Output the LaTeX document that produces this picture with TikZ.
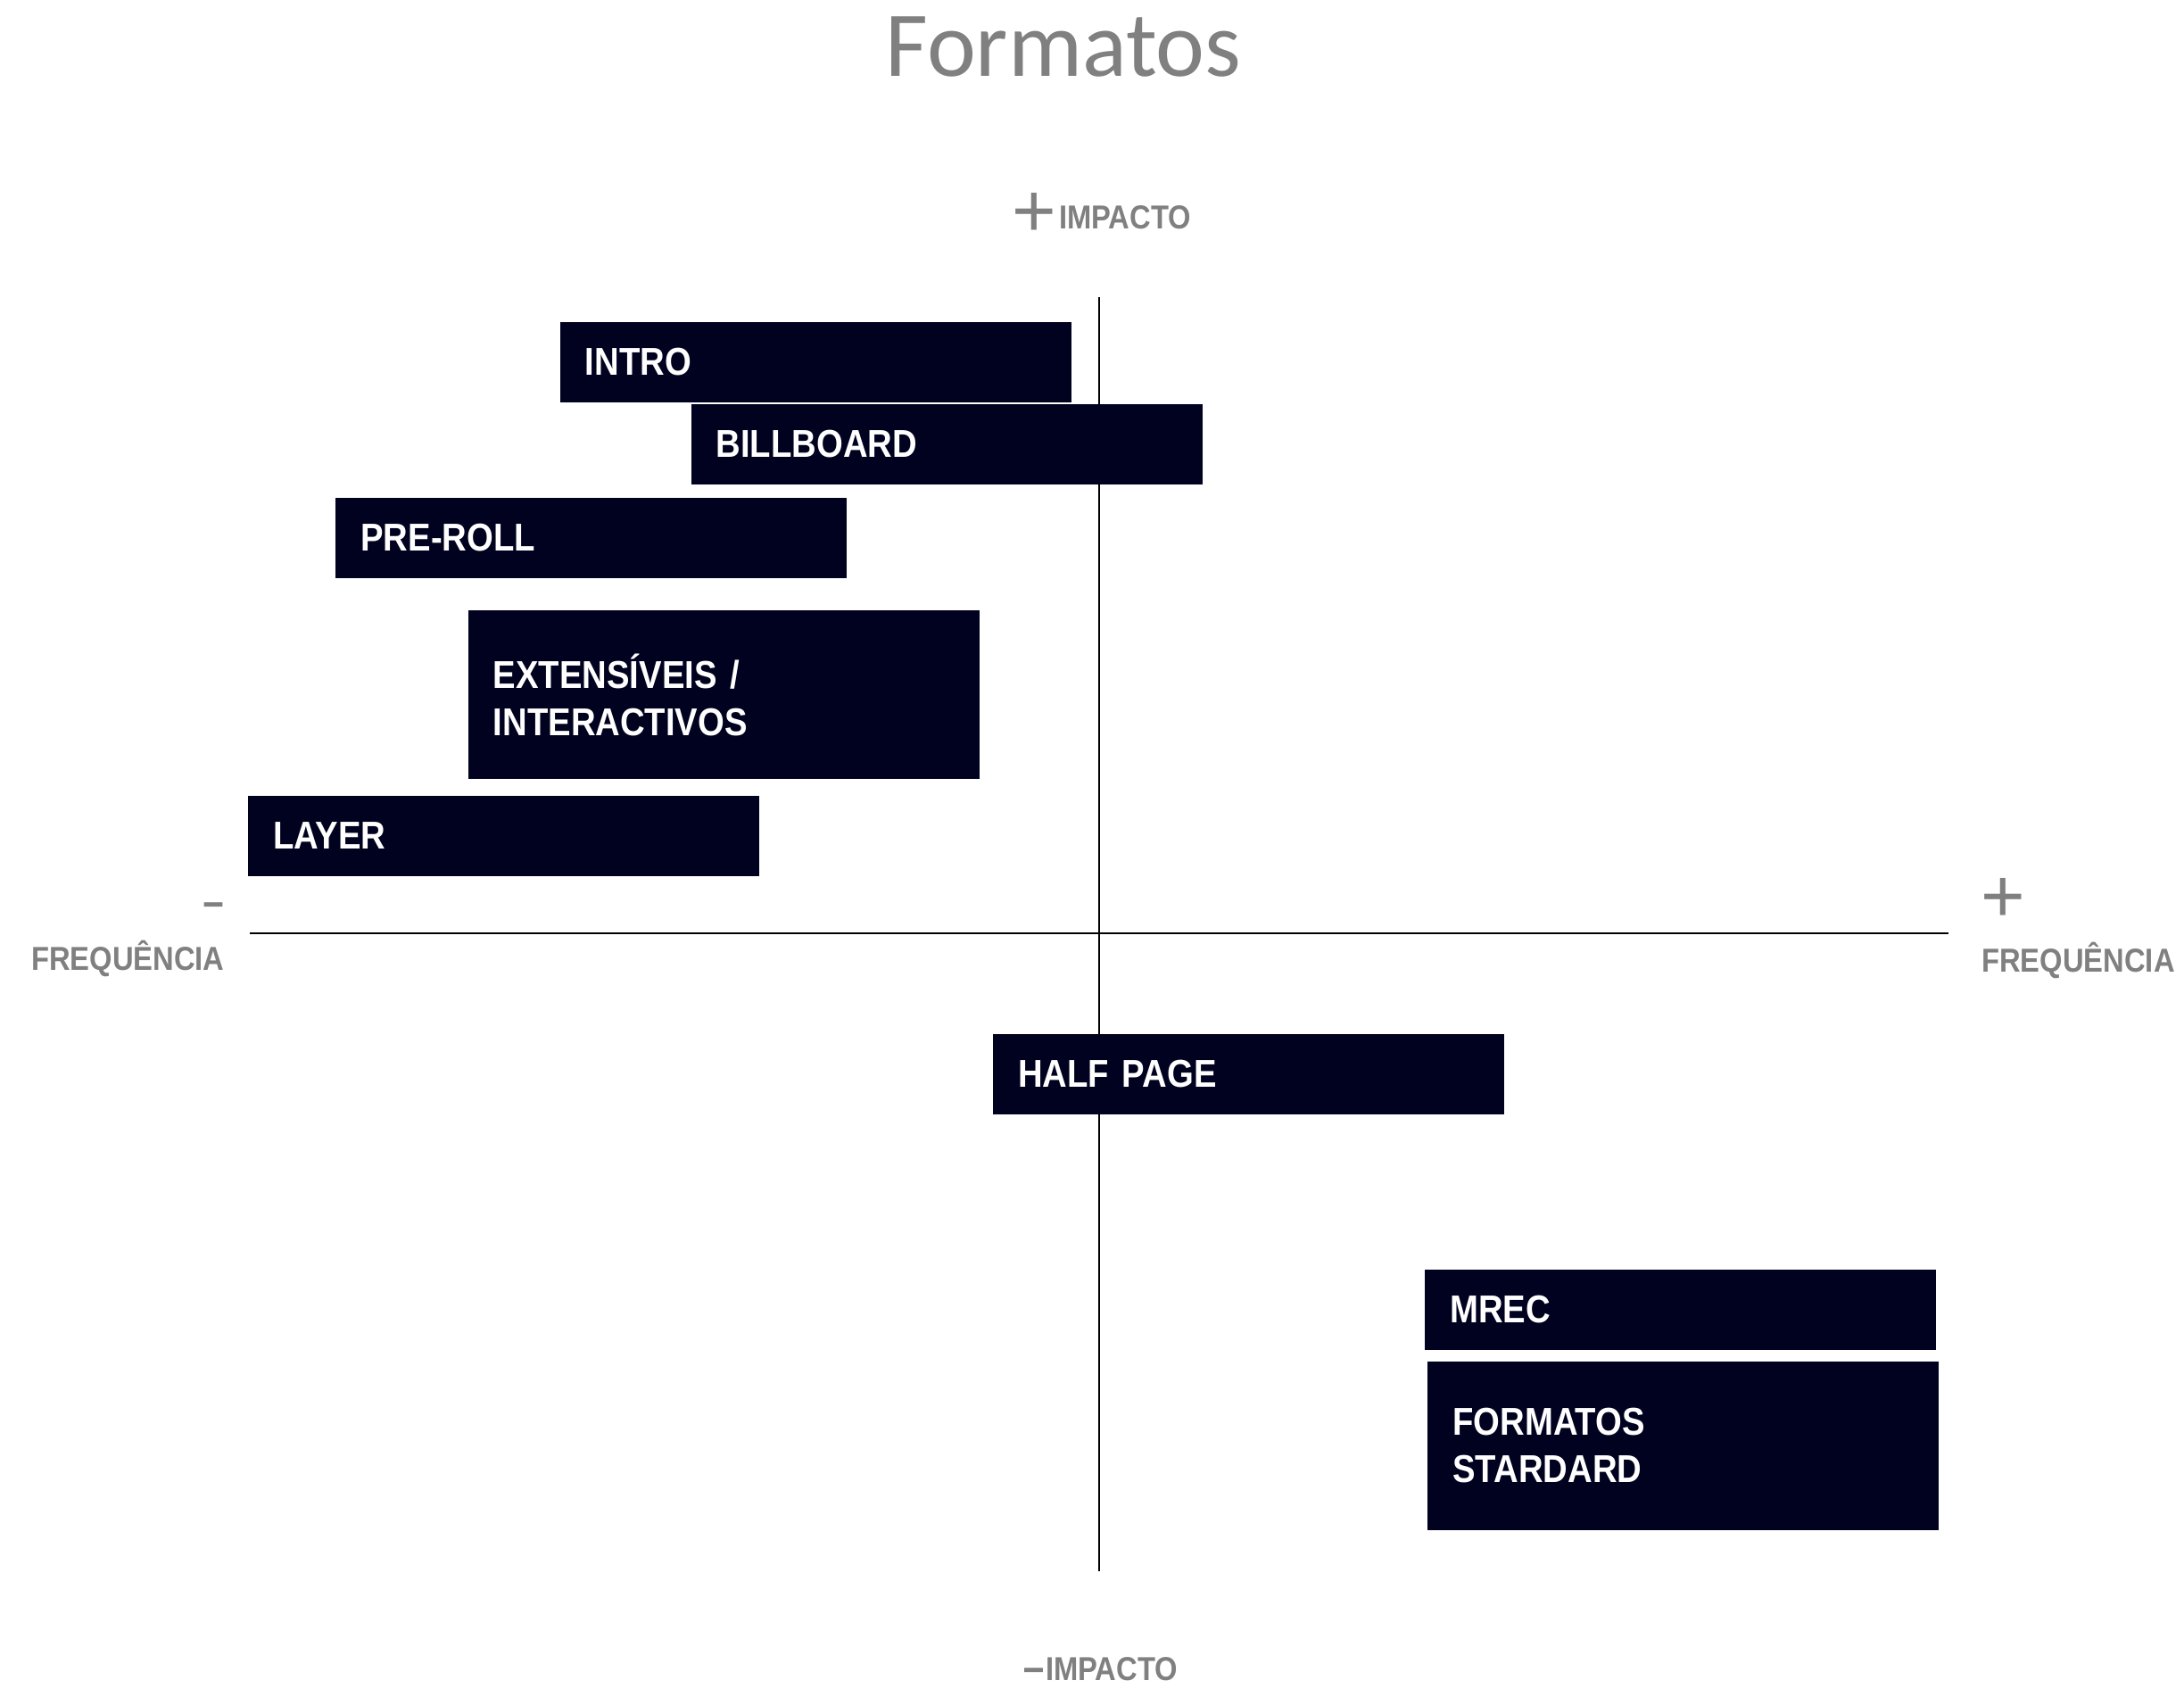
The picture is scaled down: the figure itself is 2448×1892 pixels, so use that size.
\documentclass[tikz,border=0pt]{standalone}
\usepackage{fontspec}
\setmainfont{Liberation Sans}
\newfontfamily\titlefont{Carlito}
\newfontfamily\narrowfont{Liberation Sans}[FakeStretch=0.88]
\newfontfamily\signfont{Liberation Sans}[FakeBold=2]
\definecolor{boxnavy}{RGB}{0,2,32}
\definecolor{labelgray}{RGB}{128,128,128}
\begin{document}
\begin{tikzpicture}[x=1pt,y=-1pt,
  fmtbox/.style={anchor=north west, fill=boxnavy, text=white,
    minimum width=573pt, minimum height=90pt, inner xsep=28pt, inner ysep=0pt,
    text width=517pt, align=left,
    font=\narrowfont\bfseries\fontsize{43.5}{53}\selectfont},
  tallbox/.style={fmtbox, minimum height=189pt},
  axislabel/.style={anchor=base west, inner sep=0pt, text=labelgray,
    font=\narrowfont\bfseries\fontsize{37.2}{38}\selectfont},
  plussign/.style={inner sep=0pt, text=labelgray, font=\fontsize{85}{85}\selectfont},
  minussign/.style={inner sep=0pt, text=labelgray, font=\signfont\bfseries\fontsize{40}{40}\selectfont},
  axisline/.style={line width=2.5pt, black}]

% page
\fill[white] (0,0) rectangle (2448,1892);
\useasboundingbox (0,0) rectangle (2448,1892);

% title
\node[anchor=base, inner sep=0pt, text=labelgray,
      font=\titlefont\fontsize{104}{104}\selectfont] (title) at (1192,86) {Formatos};

% axes
\coordinate (vtop) at (1232,333);
\coordinate (vbot) at (1232,1761);
\coordinate (hleft) at (280,1046);
\coordinate (hright) at (2184,1046);
\draw[axisline] (vtop) -- (vbot);
\draw[axisline] (hleft) -- (hright);

% axis labels
\node[plussign] (impplus) at (1159,241) {+};
\node[axislabel] (imptop) at (1187,256) {IMPACTO};
\node[minussign] (impminus) at (1158.5,1876) {–};
\node[axislabel] (impbot) at (1172,1883) {IMPACTO};
\node[minussign] (freqminus) at (239,1018) {–};
\node[axislabel] (freqleft) at (35,1087) {FREQUÊNCIA};
\node[plussign] (freqplus) at (2245.5,1009) {+};
\node[axislabel] (freqright) at (2221,1089) {FREQUÊNCIA};

% formats
\node[fmtbox] (intro) at (627.6,360.6) {INTRO};
\node[fmtbox] (billboard) at (774.4,452.7) {BILLBOARD};
\node[fmtbox] (preroll) at (376.2,557.3) {PRE-ROLL};
\node[tallbox] (extens) at (524.6,683.8) {EXTENSÍVEIS /\\INTERACTIVOS};
\node[fmtbox] (layer) at (277.9,891.4) {LAYER};
\node[fmtbox] (halfpage) at (1113.1,1158.4) {HALF PAGE};
\node[fmtbox] (mrec) at (1597.1,1422.3) {MREC};
\node[tallbox] (standard) at (1600.2,1525.3) {FORMATOS\\STARDARD};
\end{tikzpicture}
\end{document}
